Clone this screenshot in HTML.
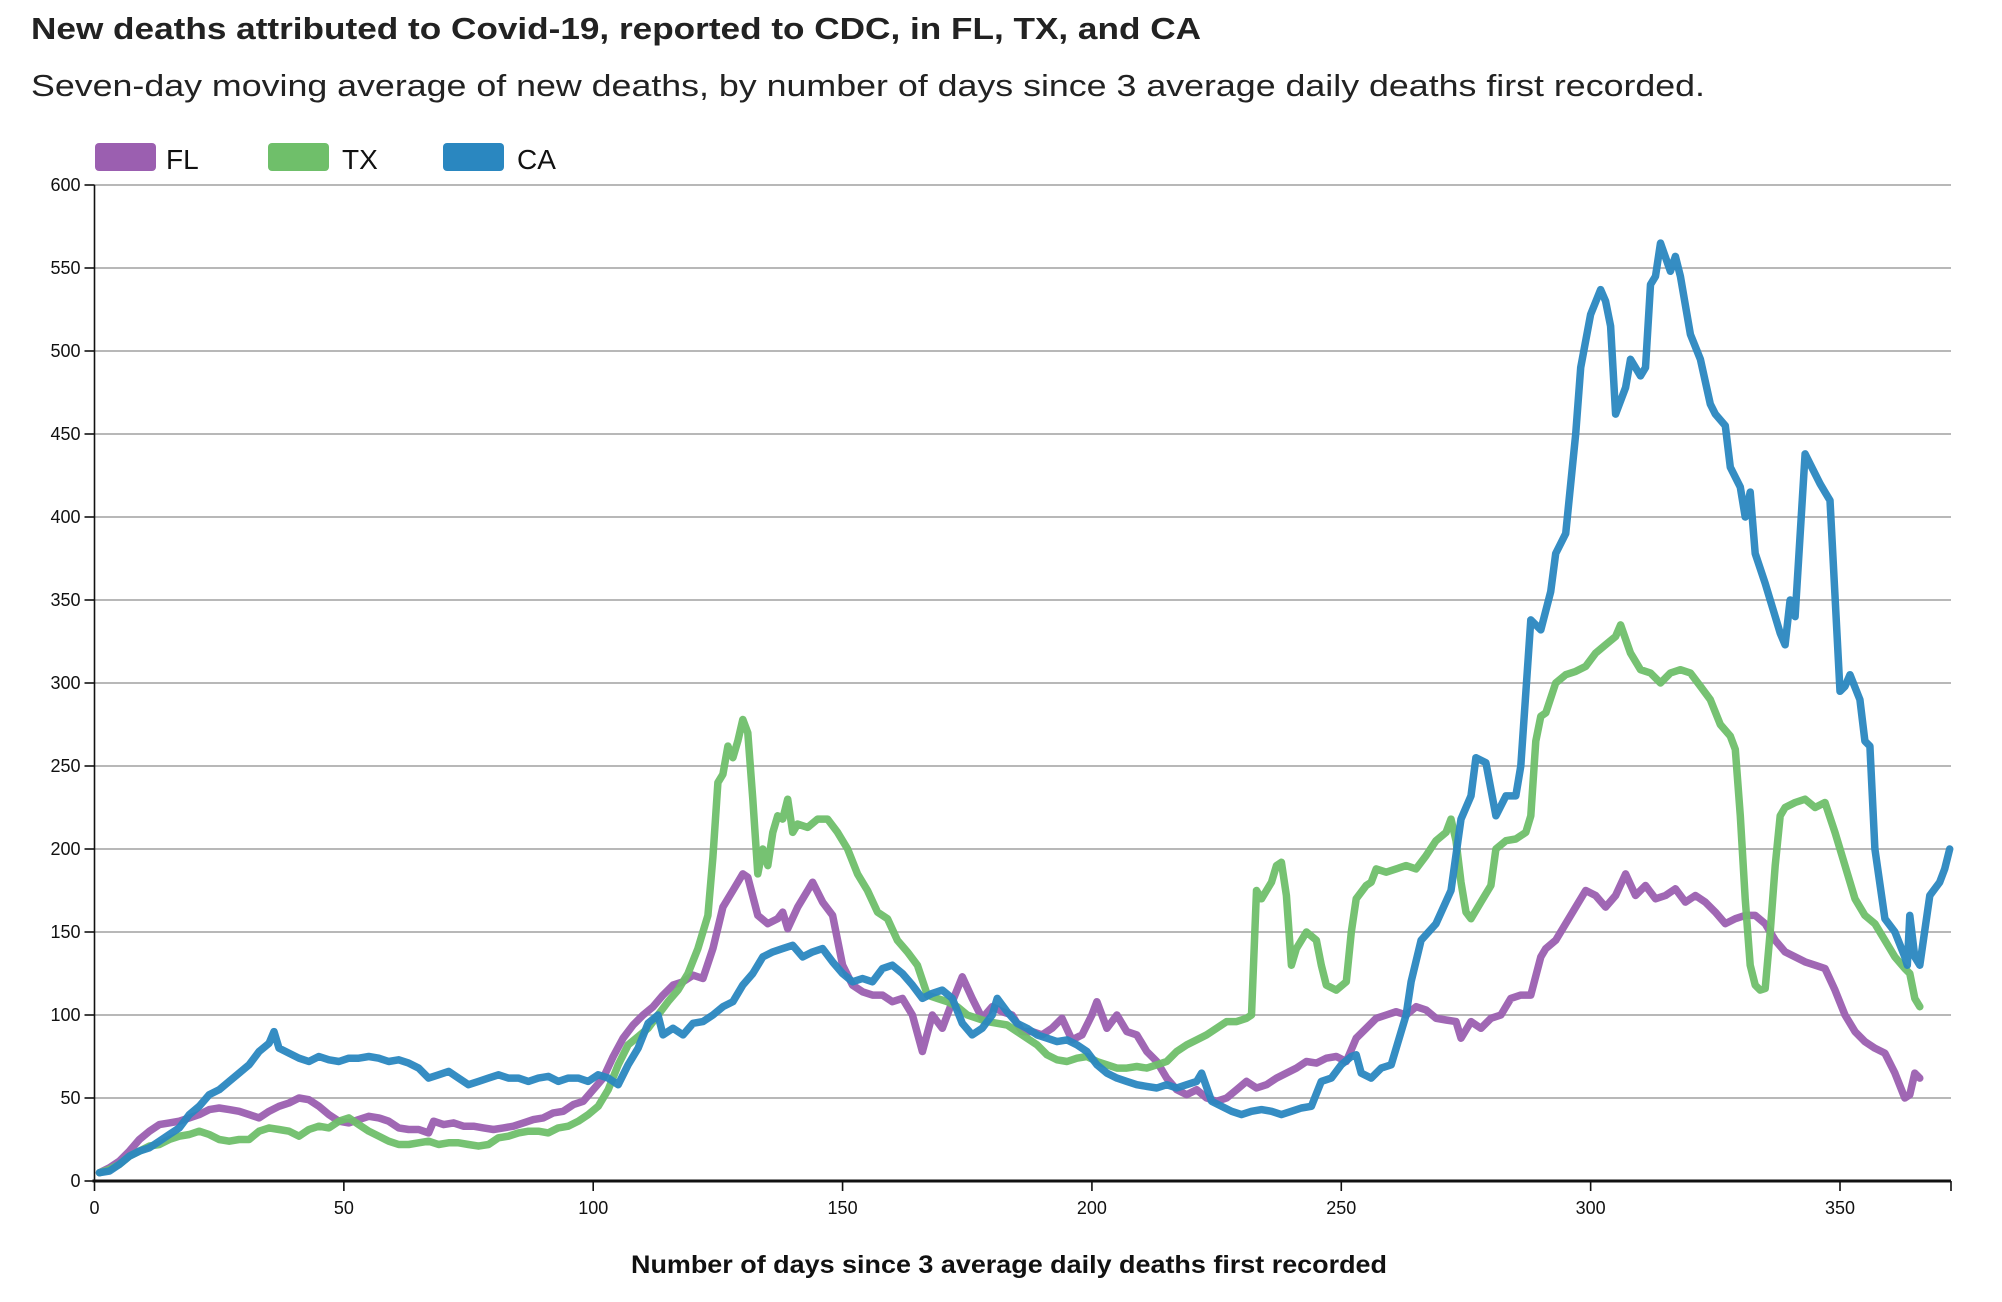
<!DOCTYPE html>
<html><head><meta charset="utf-8">
<style>
html,body{margin:0;padding:0;background:#fff;}
svg{display:block;font-family:"Liberation Sans",sans-serif;}
</style></head>
<body>
<svg id="chart" width="2002" height="1302" viewBox="0 0 2002 1302" xmlns="http://www.w3.org/2000/svg">
<text x="31" y="39" font-size="31" font-weight="bold" fill="#222" textLength="1170" lengthAdjust="spacingAndGlyphs">New deaths attributed to Covid-19, reported to CDC, in FL, TX, and CA</text>
<text x="31" y="96" font-size="31" fill="#222" textLength="1674" lengthAdjust="spacingAndGlyphs">Seven-day moving average of new deaths, by number of days since 3 average daily deaths first recorded.</text>
<g>
<g><rect x="95" y="143" width="61" height="28" rx="4" fill="#9b5fb0"/><text x="166" y="169" font-size="28" fill="#111">FL</text></g>
<g><rect x="268" y="143" width="61" height="28" rx="4" fill="#6fbf6a"/><text x="342" y="169" font-size="28" fill="#111">TX</text></g>
<g><rect x="443" y="143" width="61" height="28" rx="4" fill="#2a87c0"/><text x="517" y="169" font-size="28" fill="#111">CA</text></g>
</g>
<g id="grid"></g>
<g id="yaxis"></g>
<g id="series"></g>
<g id="xaxis"></g>
<text x="1009" y="1273" font-size="25" font-weight="bold" text-anchor="middle" fill="#111" textLength="756" lengthAdjust="spacingAndGlyphs">Number of days since 3 average daily deaths first recorded</text>
</svg>
<script>
const yTicks = [0,50,100,150,200,250,300,350,400,450,500,550,600];
const xTicks = [0,50,100,150,200,250,300,350];
const flDays = [1,3,5,7,9,11,13,15,17,19,21,23,25,27,29,31,33,35,37,39,41,43,45,47,49,51,53,55,57,59,61,63,65,67,68,70,72,74,76,78,80,82,84,86,88,90,92,94,96,98,100,102,104,106,108,110,112,114,116,118,120,122,124,126,128,130,131,133,135,137,138,139,141,143,144,146,148,150,152,154,156,158,160,162,164,166,168,170,172,174,176,178,180,182,184,186,188,190,192,194,196,198,200,201,203,205,207,209,211,213,215,217,219,221,223,225,227,229,231,233,235,237,239,241,243,245,247,249,251,253,255,257,259,261,263,265,267,269,271,273,274,276,278,280,282,284,286,288,290,291,293,295,297,299,301,303,305,307,309,311,313,315,317,319,321,323,325,327,329,331,333,335,337,339,341,343,345,347,349,351,353,355,357,359,361,363,364,365,366];
const flVals = [5,8,12,18,25,30,34,35,36,38,40,43,44,43,42,40,38,42,45,47,50,49,45,40,36,35,37,39,38,36,32,31,31,29,36,34,35,33,33,32,31,32,33,35,37,38,41,42,46,48,55,62,75,86,94,100,105,112,118,120,124,122,140,165,175,185,183,160,155,158,162,152,165,175,180,168,160,130,118,114,112,112,108,110,100,78,100,92,108,123,110,98,105,102,100,90,90,88,92,98,85,88,100,108,92,100,90,88,78,72,62,55,52,55,50,48,50,55,60,56,58,62,65,68,72,71,74,75,72,86,92,98,100,102,100,105,103,98,97,96,86,96,92,98,100,110,112,112,135,140,145,155,165,175,172,165,172,185,172,178,170,172,176,168,172,168,162,155,158,160,160,155,145,138,135,132,130,128,115,100,90,84,80,77,65,50,52,65,62];
const txDays = [1,3,5,7,9,11,13,15,17,19,21,23,25,27,29,31,33,35,37,39,41,43,45,47,49,51,53,55,57,59,61,63,65,67,69,71,73,75,77,79,81,83,85,87,89,91,93,95,97,99,101,103,105,107,109,111,113,115,117,119,121,123,124,125,126,127,128,129,130,131,132,133,134,135,136,137,138,139,140,141,143,145,147,149,151,153,155,157,159,161,163,165,167,169,171,173,175,177,179,181,183,185,187,189,191,193,195,197,199,201,203,205,207,209,211,213,215,217,219,221,223,225,227,229,231,232,233,234,236,237,238,239,240,241,242,243,245,246,247,249,251,252,253,255,256,257,259,261,263,265,267,269,271,272,273,274,275,276,278,280,281,283,285,287,288,289,290,291,293,295,297,299,301,303,305,306,308,310,312,314,316,318,320,322,324,326,328,329,330,331,332,333,334,335,336,337,338,339,341,343,345,347,349,351,353,355,357,359,361,363,364,365,366];
const txVals = [5,7,10,15,18,21,22,25,27,28,30,28,25,24,25,25,30,32,31,30,27,31,33,32,36,38,34,30,27,24,22,22,23,24,22,23,23,22,21,22,26,27,29,30,30,29,32,33,36,40,45,55,70,82,87,92,100,108,115,125,140,160,195,240,245,262,255,265,278,270,230,185,200,190,210,220,218,230,210,215,213,218,218,210,200,185,175,162,158,145,138,130,112,110,108,105,100,98,96,95,94,90,86,82,76,73,72,74,75,72,70,68,68,69,68,70,72,78,82,85,88,92,96,96,98,100,175,170,180,190,192,172,130,140,145,150,145,130,118,115,120,150,170,178,180,188,186,188,190,188,196,205,210,218,205,180,162,158,168,178,200,205,206,210,220,265,280,282,300,305,307,310,318,323,328,335,318,308,306,300,306,308,306,298,290,275,268,260,220,170,130,118,115,116,150,190,220,225,228,230,225,228,210,190,170,160,155,145,135,128,125,110,105];
const caDays = [1,3,5,7,9,11,13,15,17,19,21,23,25,27,29,31,33,35,36,37,39,41,43,45,47,49,51,53,55,57,59,61,63,65,67,69,71,73,75,77,79,81,83,85,87,89,91,93,95,97,99,101,103,105,107,109,111,113,114,116,118,120,122,124,126,128,130,132,134,136,138,140,142,144,146,148,150,152,154,156,158,160,162,164,166,168,170,172,174,176,178,180,181,183,185,187,189,191,193,195,197,199,201,203,205,207,209,211,213,215,217,219,221,222,224,226,228,230,232,234,236,238,240,242,244,246,248,250,252,253,254,256,258,260,263,264,266,269,272,274,276,277,279,281,283,285,286,288,290,292,293,295,296,297,298,300,302,303,304,305,307,308,310,311,312,313,314,316,317,318,320,322,324,325,327,328,330,331,332,333,335,337,338,339,340,341,343,344,346,347,348,350,351,352,354,355,356,357,359,361,363,363.5,364,365,366,368,370,371,372];
const caVals = [5,6,10,15,18,20,24,28,32,40,45,52,55,60,65,70,78,83,90,80,77,74,72,75,73,72,74,74,75,74,72,73,71,68,62,64,66,62,58,60,62,64,62,62,60,62,63,60,62,62,60,64,62,58,70,80,95,100,88,92,88,95,96,100,105,108,118,125,135,138,140,142,135,138,140,132,125,120,122,120,128,130,125,118,110,113,115,110,95,88,92,100,110,102,95,92,88,86,84,85,82,78,70,65,62,60,58,57,56,58,56,58,60,65,48,45,42,40,42,43,42,40,42,44,45,60,62,70,75,76,65,62,68,70,100,120,145,155,175,218,232,255,252,220,232,232,250,338,332,355,378,390,420,450,490,522,537,530,515,462,478,495,485,490,540,545,565,548,557,545,510,495,468,462,455,430,418,400,415,378,360,340,330,323,350,340,438,432,420,415,410,295,298,305,290,265,262,200,158,150,135,130,160,135,130,172,180,188,200,232];

const X0 = 94.5, PX_PER_DAY = (1840 - 94.5) / 350, Y0 = 1181, Y600 = 185, XEND = 1951;
const xScale = d => X0 + d * PX_PER_DAY;
const yScale = v => Y0 - v * (Y0 - Y600) / 600;
const NS = 'http://www.w3.org/2000/svg';
function mk(tag, attrs, parent) {
  const el = document.createElementNS(NS, tag);
  for (const k in attrs) el.setAttribute(k, attrs[k]);
  parent.appendChild(el);
  return el;
}
const grid = document.getElementById('grid');
const yaxis = document.getElementById('yaxis');
const xaxis = document.getElementById('xaxis');
const series = document.getElementById('series');

yTicks.forEach(v => {
  const y = yScale(v);
  if (v > 0) {
    const gl = mk('line', {x1: X0, x2: XEND, y1: y, y2: y, stroke: '#a0a0a0', 'stroke-width': 1.6}, grid);
    
    
  }
  const tk = mk('line', {x1: X0 - 10, x2: X0, y1: y, y2: y, stroke: '#111', 'stroke-width': 1.6}, yaxis);
  
  
  const t = mk('text', {x: X0 - 14, y: y + 6, 'font-size': 18, 'text-anchor': 'end', fill: '#111'}, yaxis);
  t.textContent = v;
  
  
});
const yl = mk('line', {x1: X0, x2: X0, y1: Y600, y2: Y0, stroke: '#111', 'stroke-width': 1.6}, yaxis);



function drawSeries(days, vals, color, name) {
  let d = '';
  days.forEach((day, i) => { d += (i ? 'L' : 'M') + xScale(day).toFixed(1) + ',' + yScale(vals[i]).toFixed(1); });
  const p = mk('path', {d: d, fill: 'none', stroke: color, 'stroke-width': 7.5, 'stroke-linejoin': 'round', 'stroke-linecap': 'round', opacity: 0.95}, series);
  
  
}
drawSeries(flDays, flVals, '#9b5fb0', 'line-fl');
drawSeries(txDays, txVals, '#6fbf6a', 'line-tx');
drawSeries(caDays, caVals, '#2a87c0', 'line-ca');

const xl = mk('line', {x1: X0 - 2, x2: XEND, y1: Y0, y2: Y0, stroke: '#111', 'stroke-width': 3}, xaxis);


xTicks.forEach(v => {
  const x = xScale(v);
  const tk = mk('line', {x1: x, x2: x, y1: Y0, y2: Y0 + 10, stroke: '#111', 'stroke-width': 1.6}, xaxis);
  
  
  const t = mk('text', {x: x, y: Y0 + 33, 'font-size': 18, 'text-anchor': 'middle', fill: '#111'}, xaxis);
  t.textContent = v;
  
  
});
const endTick = mk('line', {x1: XEND, x2: XEND, y1: Y0, y2: Y0 + 10, stroke: '#111', 'stroke-width': 1.6}, xaxis);


</script>
</body></html>
